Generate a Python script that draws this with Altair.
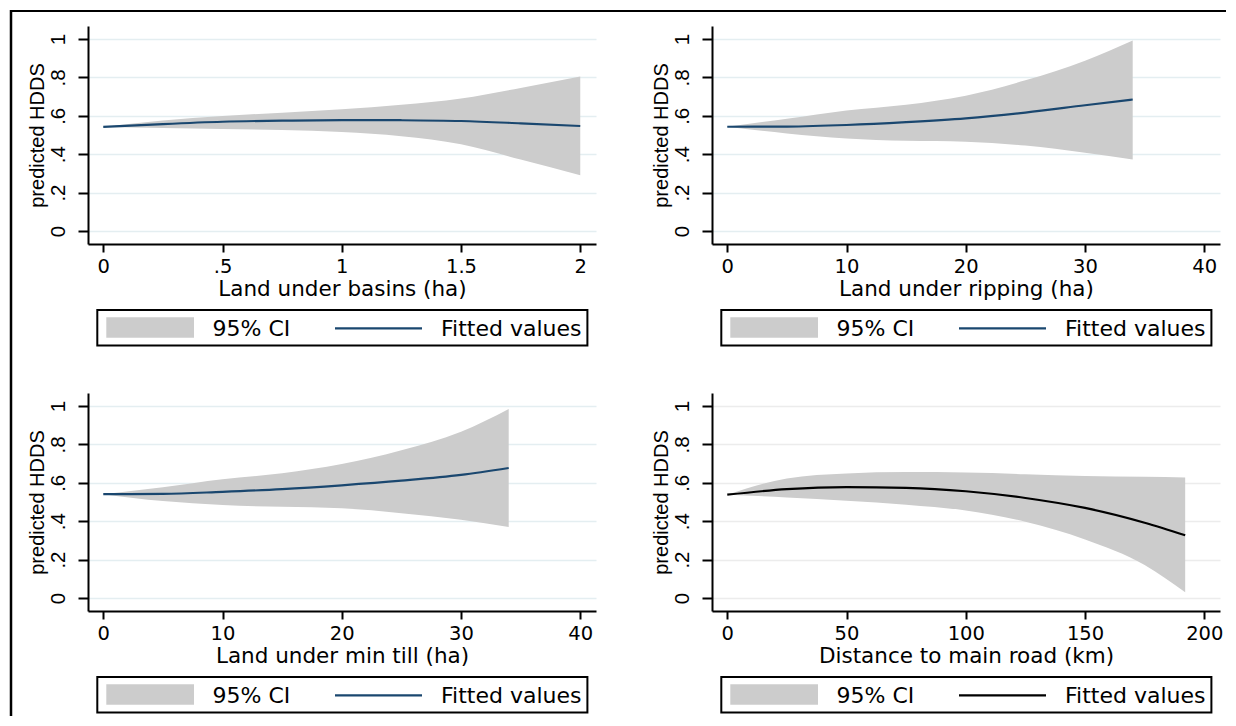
import altair as alt
import pandas as pd

# ---------------- data ----------------
legend_labels = ["95% CI", "Fitted values"]
y_title = "predicted HDDS"
y_ticks = [0, 0.2, 0.4, 0.6, 0.8, 1]

# Panel 1: Land under basins (ha)
basins_x = [0, 0.25, 0.5, 0.75, 1.0, 1.25, 1.5, 1.75, 2.0]
basins_fit = [0.542, 0.557, 0.569, 0.575, 0.578, 0.577, 0.573, 0.561, 0.547]
basins_hi = [0.542, 0.576, 0.599, 0.616, 0.634, 0.657, 0.690, 0.745, 0.805]
basins_lo = [0.542, 0.537, 0.531, 0.526, 0.515, 0.494, 0.452, 0.372, 0.290]
basins_ticks = [0, 0.5, 1, 1.5, 2]

# Panel 2: Land under ripping (ha)
rip_x = [0, 5, 10, 15, 20, 25, 30, 34]
rip_fit = [0.543, 0.544, 0.552, 0.567, 0.587, 0.617, 0.655, 0.685]
rip_hi = [0.543, 0.585, 0.628, 0.658, 0.705, 0.785, 0.887, 0.993]
rip_lo = [0.543, 0.508, 0.482, 0.470, 0.465, 0.445, 0.407, 0.372]
rip_ticks = [0, 10, 20, 30, 40]

# Panel 3: Land under min till (ha)
till_x = [0, 5, 10, 15, 20, 25, 30, 34]
till_fit = [0.541, 0.542, 0.553, 0.567, 0.587, 0.611, 0.641, 0.677]
till_hi = [0.541, 0.577, 0.618, 0.650, 0.698, 0.770, 0.866, 0.985]
till_lo = [0.541, 0.505, 0.484, 0.475, 0.467, 0.442, 0.407, 0.370]
till_ticks = [0, 10, 20, 30, 40]

# Panel 4: Distance to main road (km)
road_x = [0, 25, 50, 75, 100, 125, 150, 175, 192]
road_fit = [0.538, 0.567, 0.578, 0.574, 0.556, 0.521, 0.469, 0.392, 0.327]
road_hi = [0.538, 0.623, 0.649, 0.656, 0.654, 0.645, 0.636, 0.631, 0.628]
road_lo = [0.538, 0.524, 0.507, 0.486, 0.456, 0.397, 0.305, 0.172, 0.030]
road_ticks = [0, 50, 100, 150, 200]

# ---------------- styling ----------------
FONT_H = "DejaVu Sans"
FONT_V = "Liberation Sans"
NAVY = "#1a476f"
CI_GREY = "#cccccc"
W, H = 508, 218
LABEL_EXPR = "replace(toString(datum.value), regexp('^0[.]'), '.')"


def legend_layers(line_color):
    one = alt.Data(values=[{}])
    box = alt.Chart(one).mark_rect(fill="white", fillOpacity=0, stroke="black", strokeWidth=2).encode(
        x=alt.value(9.3), x2=alt.value(499.4), y=alt.value(284), y2=alt.value(319.5))
    swatch = alt.Chart(one).mark_rect(color=CI_GREY).encode(
        x=alt.value(18.3), x2=alt.value(106), y=alt.value(291.3), y2=alt.value(311.7))
    t1 = alt.Chart(one).mark_text(align="left", baseline="alphabetic", font=FONT_H, fontSize=22,
                                  color="black").encode(
        x=alt.value(124.5), y=alt.value(310), text=alt.value(legend_labels[0]))
    seg = alt.Chart(one).mark_rule(color=line_color, strokeWidth=2.2).encode(
        x=alt.value(247), x2=alt.value(334), y=alt.value(302.3))
    t2 = alt.Chart(one).mark_text(align="left", baseline="alphabetic", font=FONT_H, fontSize=22,
                                  color="black").encode(
        x=alt.value(353), y=alt.value(310), text=alt.value(legend_labels[1]))
    return [box, swatch, t1, seg, t2]


def panel(x, fit, lo, hi, ticks, xtitle, line_color, grid_color, border=False):
    df = pd.DataFrame({"x": x, "fit": fit, "lo": lo, "hi": hi})
    span = ticks[-1] - ticks[0]
    xs = alt.Scale(domain=[ticks[0] - 0.032 * span, ticks[-1] + 0.033 * span], nice=False, zero=False)
    ys = alt.Scale(domain=[-0.068, 1.068], nice=False, zero=False)
    xaxis = alt.Axis(values=ticks, title=xtitle, grid=False,
                     domainColor="black", domainWidth=2, tickColor="black", tickWidth=2, tickSize=8,
                     labelFont=FONT_H, labelFontSize=19.5, labelColor="black", labelPadding=5.5,
                     labelExpr=LABEL_EXPR, labelFlush=False, labelOverlap=False,
                     titleFont=FONT_H, titleFontSize=21.5, titleFontWeight="normal", titleColor="black",
                     titleY=51.5, titleBaseline="alphabetic")
    yaxis = alt.Axis(values=y_ticks, title=y_title, grid=True, gridColor=grid_color, gridWidth=1.5,
                     domainColor="black", domainWidth=2, tickColor="black", tickWidth=2, tickSize=10,
                     labelAngle=270, labelAlign="center", labelBaseline="alphabetic", labelPadding=14,
                     labelFont=FONT_V, labelFontSize=20.5, labelColor="black", labelExpr=LABEL_EXPR,
                     labelFlush=False, labelOverlap=False,
                     titleFont=FONT_V, titleFontSize=20, titleFontWeight="normal", titleColor="black",
                     titleAngle=270, titleAlign="center", titleBaseline="alphabetic",
                     titleX=-44.5, titleY=H / 2)
    area = alt.Chart(df).mark_area(color=CI_GREY, interpolate="monotone").encode(
        x=alt.X("x:Q", scale=xs, axis=xaxis, title=xtitle),
        y=alt.Y("hi:Q", scale=ys, axis=yaxis, title=y_title),
        y2="lo:Q")
    line = alt.Chart(df).mark_line(color=line_color, strokeWidth=2.2, interpolate="monotone").encode(
        x=alt.X("x:Q", title=xtitle),
        y=alt.Y("fit:Q", title=y_title))
    layers = [area, line] + legend_layers(line_color)
    if border:
        one = alt.Data(values=[{}])
        top = alt.Chart(one).mark_rule(color="black", strokeWidth=2).encode(
            x=alt.value(-78), x2=alt.value(1138), y=alt.value(-15))
        left = alt.Chart(one).mark_rule(color="black", strokeWidth=2.5).encode(
            x=alt.value(-77), y=alt.value(-16), y2=alt.value(690))
        layers += [top, left]
    return alt.layer(*layers).properties(width=W, height=H)


p1 = panel(basins_x, basins_fit, basins_lo, basins_hi, basins_ticks,
           "Land under basins (ha)", NAVY, "#e4eef1", border=True)
p2 = panel(rip_x, rip_fit, rip_lo, rip_hi, rip_ticks,
           "Land under ripping (ha)", NAVY, "#e4eef1")
p3 = panel(till_x, till_fit, till_lo, till_hi, till_ticks,
           "Land under min till (ha)", NAVY, "#e4eef1")
p4 = panel(road_x, road_fit, road_lo, road_hi, road_ticks,
           "Distance to main road (km)", "black", "#ececec")

chart = alt.concat(p1, p2, p3, p4, columns=2, spacing={"row": 149, "column": 116},
                   bounds="flush").properties(padding=0, background="white"
                   ).configure_view(stroke="transparent")

chart.save("out.html", embed_options={"renderer": "svg", "actions": False})
